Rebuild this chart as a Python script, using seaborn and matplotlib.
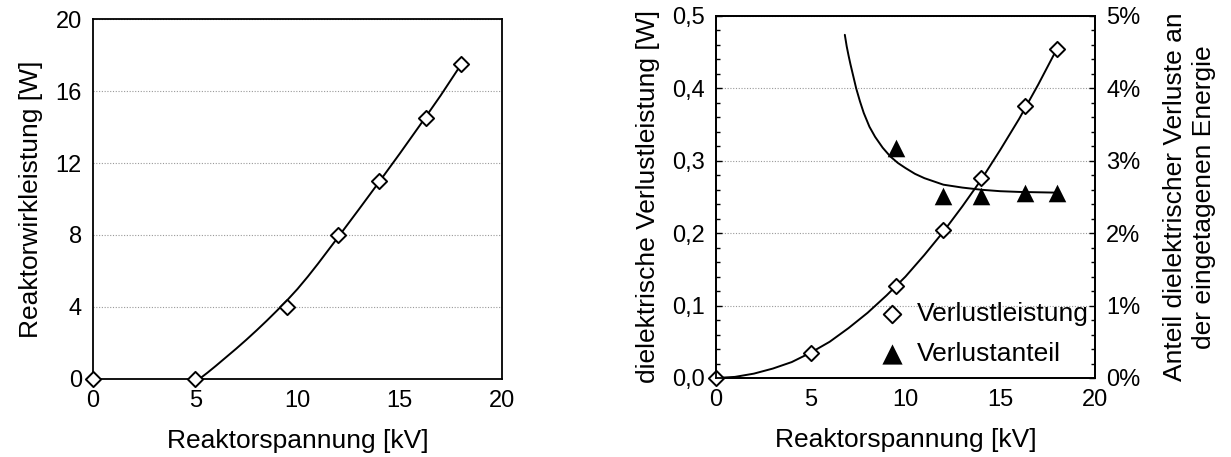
import numpy as np
import pandas as pd
import matplotlib
matplotlib.use("Agg")
import matplotlib.pyplot as plt
from matplotlib.ticker import MultipleLocator, FuncFormatter, PercentFormatter
import seaborn as sns

# measured points (voltage in kV)
voltage = [0.0, 5.0, 9.5, 12.0, 14.0, 16.3, 18.0]
wirkleistung = [0.0, 0.0, 4.0, 8.0, 11.0, 14.5, 17.5]          # W
verlustleistung = [0.0, 0.035, 0.127, 0.204, 0.276, 0.375, 0.455]  # W

anteil_voltage = [9.5, 12.0, 14.0, 16.3, 18.0]
verlustanteil = [3.17, 2.51, 2.51, 2.56, 2.56]                   # %

# trend curves
wirk_curve_x = [5.2, 5.6, 6, 6.5, 7, 7.5, 8, 8.5, 9, 9.5, 10, 10.5, 11, 11.5, 12, 12.5,
                13, 14, 15, 16, 17, 17.9]
wirk_curve_y = [0.0, 0.35, 0.72, 1.2, 1.68, 2.18, 2.7, 3.24, 3.8, 4.38, 5.0, 5.68, 6.4,
                7.15, 7.9, 8.66, 9.42, 10.96, 12.52, 14.12, 15.75, 17.3]

verl_curve_x = [0, 1, 2, 3, 4, 5, 6, 7, 8, 9, 10, 11, 12, 13, 14, 15, 16, 17, 18]
verl_curve_y = [0, 0.0015, 0.006, 0.013, 0.022, 0.035, 0.05, 0.069, 0.09, 0.114, 0.14,
                0.17, 0.202, 0.237, 0.274, 0.315, 0.358, 0.405, 0.455]

anteil_curve_x = [6.8, 6.9, 7.0, 7.1, 7.2, 7.4, 7.6, 7.8, 8.1, 8.4, 8.8, 9.2, 9.6, 10, 10.5,
                  11, 12, 13, 14, 15, 16, 17, 18]
anteil_curve_y = [4.74, 4.58, 4.45, 4.33, 4.22, 4.0, 3.82, 3.66, 3.47, 3.33, 3.18, 3.06,
                  2.97, 2.9, 2.82, 2.76, 2.67, 2.63, 2.6, 2.58, 2.57, 2.565, 2.56]

sns.set_style("white")
plt.rcParams["font.family"] = ["Liberation Sans", "DejaVu Sans"]
plt.rcParams.update({
    "text.color": "black",
    "axes.labelcolor": "black",
    "xtick.color": "black",
    "ytick.color": "black",
    "axes.edgecolor": "black",
})

TICK_FS = 17
LABEL_FS = 19

fig = plt.figure(figsize=(12.31, 4.57), dpi=100)
ax1 = fig.add_axes([0.0755, 0.1707, 0.3323, 0.7877])
ax2 = fig.add_axes([0.5816, 0.1729, 0.3079, 0.7921])
ax3 = ax2.twinx()

line_kw = dict(color="black", linewidth=1.4, sort=False, estimator=None)
diamond_kw = dict(marker="D", s=60, facecolor="white", edgecolor="black",
                  linewidth=1.4, clip_on=False, zorder=5)
tri_kw = dict(marker="^", s=160, color="black", edgecolor="black",
              linewidth=0, clip_on=False, zorder=5)


def style_axis(ax, ymax, ymajor, yminor):
    ax.set_xlim(0, 20)
    ax.set_ylim(0, ymax)
    ax.xaxis.set_major_locator(MultipleLocator(5))
    ax.xaxis.set_minor_locator(MultipleLocator(1))
    ax.yaxis.set_major_locator(MultipleLocator(ymajor))
    ax.yaxis.set_minor_locator(MultipleLocator(yminor))
    ax.tick_params(which="both", direction="in", labelsize=TICK_FS, width=1.0,
                   top=False, right=False)
    ax.tick_params(which="major", length=4, pad=8)
    ax.tick_params(which="minor", length=3)
    ax.grid(axis="y", which="major", color="#999999", linestyle=(0, (1, 1.5)), linewidth=0.8)
    for sp in ax.spines.values():
        sp.set_visible(True)
        sp.set_color("black")
        sp.set_linewidth(1.3)
    ax.set_xlabel("Reaktorspannung [kV]", fontsize=LABEL_FS, labelpad=12)


# left panel
sns.lineplot(x=wirk_curve_x, y=wirk_curve_y, ax=ax1, **line_kw)
sns.scatterplot(x=voltage, y=wirkleistung, ax=ax1, **diamond_kw)
style_axis(ax1, 20, 4, 1)
ax1.set_ylabel("Reaktorwirkleistung [W]", fontsize=LABEL_FS, labelpad=9)

# right panel
sns.lineplot(x=verl_curve_x, y=verl_curve_y, ax=ax2, **line_kw)
sns.scatterplot(x=voltage, y=verlustleistung, ax=ax2, label="Verlustleistung", **diamond_kw)
style_axis(ax2, 0.5, 0.1, 0.02)
ax2.yaxis.set_major_formatter(FuncFormatter(lambda v, p: f"{v:.1f}".replace(".", ",")))
ax2.set_ylabel("dielektrische Verlustleistung [W]", fontsize=LABEL_FS, labelpad=9)

sns.lineplot(x=anteil_curve_x, y=anteil_curve_y, ax=ax3, **line_kw)
sns.scatterplot(x=anteil_voltage, y=verlustanteil, ax=ax3, label="Verlustanteil", **tri_kw)
ax3.set_ylim(0, 5)
ax3.yaxis.set_major_locator(MultipleLocator(1))
ax3.yaxis.set_minor_locator(MultipleLocator(0.2))
ax3.yaxis.set_major_formatter(PercentFormatter(xmax=100, decimals=0))
ax3.tick_params(which="both", direction="in", labelsize=TICK_FS, left=False, right=True,
                width=1.0, pad=8)
ax3.tick_params(which="major", length=4)
ax3.tick_params(which="minor", length=3)
for sp in ax3.spines.values():
    sp.set_linewidth(1.3)
    sp.set_color("black")
ax3.set_ylabel("Anteil dielektrischer Verluste an\nder eingetagenen Energie",
               fontsize=LABEL_FS, labelpad=16, linespacing=1.3)

# combined legend
h1, l1 = ax2.get_legend_handles_labels()
h2, l2 = ax3.get_legend_handles_labels()
if ax2.get_legend() is not None:
    ax2.get_legend().remove()
ax3.legend(h1 + h2, l1 + l2, loc="upper left", bbox_to_anchor=(0.36, 0.26),
           frameon=False, fontsize=LABEL_FS, handletextpad=0.15, borderpad=0.2,
           labelspacing=0.6, markerscale=1.15, handlelength=1.6)

fig.savefig("out.png", dpi=100)
